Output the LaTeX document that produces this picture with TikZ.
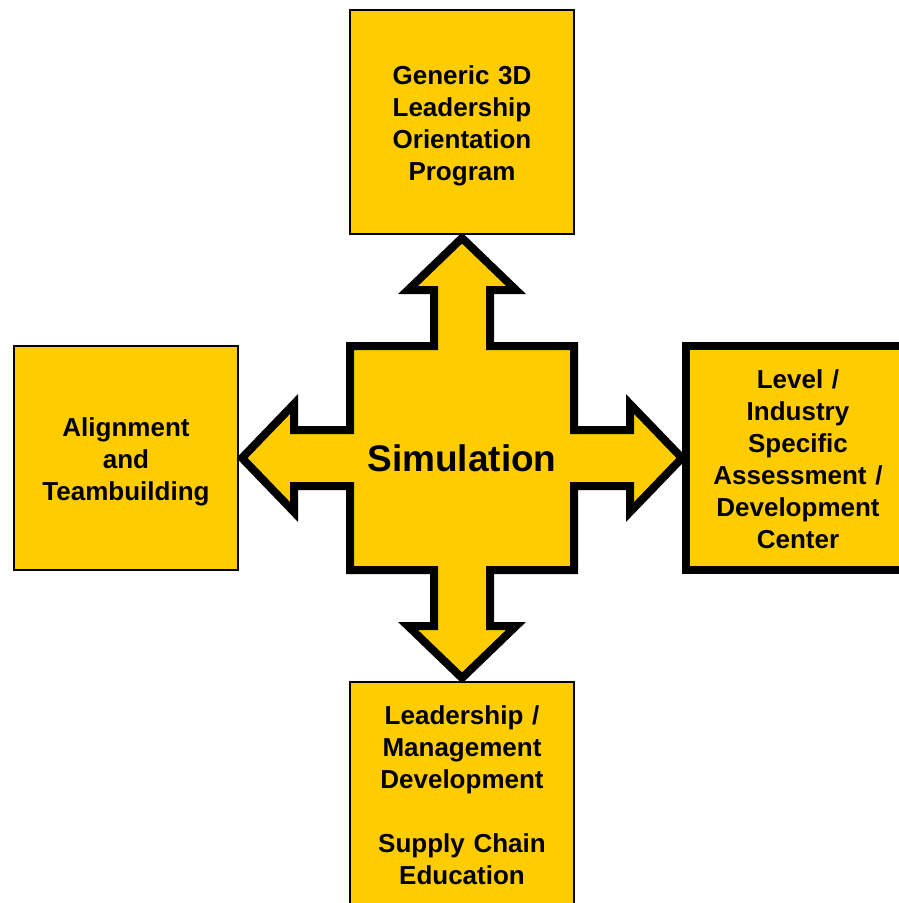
\documentclass[tikz,border=0pt]{standalone}
\usepackage{fontspec}
\setmainfont{Liberation Sans}
\definecolor{gold}{RGB}{255,204,0}
\begin{document}
\begin{tikzpicture}[x=1pt,y=-1pt,
  panel/.style={draw=black, fill=gold, line width=2.4pt, minimum width=224pt,
    minimum height=224pt, inner sep=0pt},
  paneltext/.style={inner sep=0pt, text width=214pt, align=center, yshift=-#1,
    font=\fontsize{26}{32}\selectfont\bfseries},
  paneltext/.default=3.5pt,
  crossbody/.style={draw=black, fill=gold, line width=8pt, line join=miter, miter limit=10},
  bigtext/.style={font=\fontsize{37}{40}\selectfont\bfseries}]
\useasboundingbox (0,0) rectangle (899,903);
\clip (0,0) rectangle (899,903);

% four-way arrow around the central square
\begin{scope}[shift={(462,458)}]
  \draw[crossbody]
    (0,-220) -- (54,-168) -- (28,-168) -- (28,-112) -- (112,-112) -- (112,-28)
    -- (168,-28) -- (168,-54) -- (220,0) -- (168,54) -- (168,28) -- (112,28)
    -- (112,112) -- (28,112) -- (28,168) -- (54,168) -- (0,220) -- (-54,168)
    -- (-28,168) -- (-28,112) -- (-112,112) -- (-112,28) -- (-168,28)
    -- (-168,54) -- (-220,0) -- (-168,-54) -- (-168,-28) -- (-112,-28)
    -- (-112,-112) -- (-28,-112) -- (-28,-168) -- (-54,-168) -- cycle;
\end{scope}
\node[bigtext] (sim) at (462,458) {Simulation};

% surrounding boxes
\node[panel] (top) at (462,122) {};
\node[panel] (left) at (126,458) {};
\node[panel, line width=8pt] (right) at (798,458) {};
\node[panel] (bottom) at (462,794) {};

% box captions
\node[paneltext] (top-text) at (top.center)
  {Generic 3D\\Leadership\\Orientation\\Program};
\node[paneltext] (left-text) at (left.center) {Alignment\\and\\Teambuilding};
\node[paneltext=1.5pt] (right-text) at (right.center)
  {Level /\\Industry\\Specific\\Assessment /\\Development\\Center};
\node[paneltext=1.5pt] (bottom-text) at (bottom.center)
  {Leadership /\\Management\\Development\\[32pt]Supply Chain\\Education};
\end{tikzpicture}
\end{document}
